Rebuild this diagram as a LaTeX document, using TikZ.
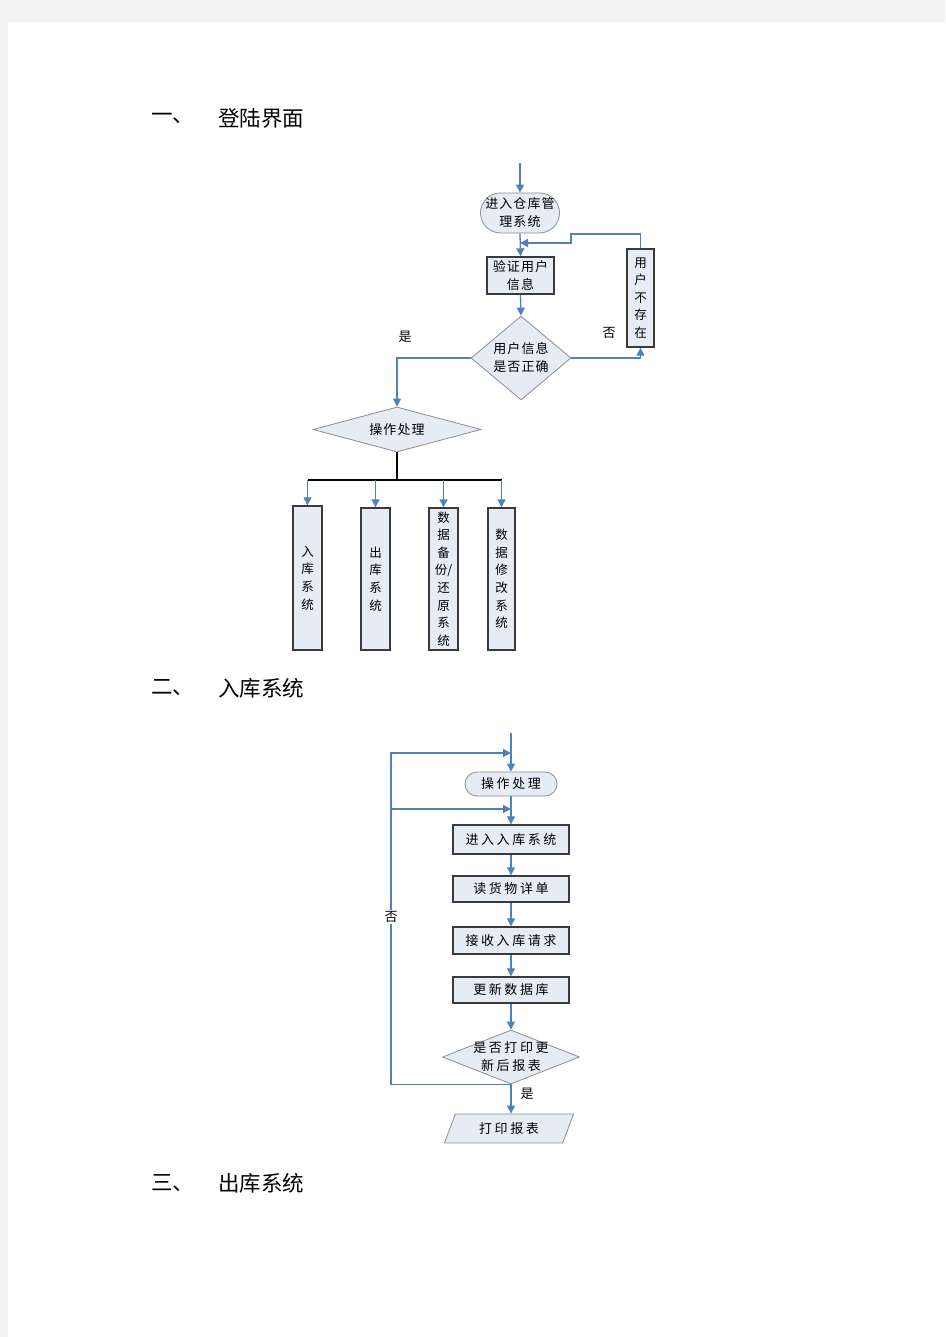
\documentclass[tikz,border=0pt]{standalone}
\usepackage{fontspec}
\usepackage{tikz}
\usetikzlibrary{arrows.meta,shapes.geometric,calc}
\newfontfamily\cjk{Noto Sans CJK SC}
\newfontfamily\cjka[LetterSpace=8]{Noto Sans CJK SC}
\newfontfamily\cjkls[LetterSpace=20]{Noto Sans CJK SC}
\definecolor{flowblue}{HTML}{4F81BD}
\definecolor{boxfill}{HTML}{E6ECF6}
\definecolor{boxline}{HTML}{3A3A3A}
\definecolor{shapeline}{HTML}{8E8E8E}
\definecolor{pagegray}{HTML}{F2F2F2}
\tikzset{>={Triangle[length=8pt,width=8pt]}}
\tikzset{
  flow/.style={flowblue, line width=1.3pt},
  procbox/.style={draw=boxline, line width=1.4pt, fill=boxfill, inner sep=0pt, align=center},
  termbox/.style={draw=shapeline, line width=0.8pt, fill=boxfill, inner sep=0pt, align=center},
  decbox/.style={diamond, draw=shapeline, line width=0.8pt, fill=boxfill, inner sep=0pt},
  iobox/.style={trapezium, trapezium left angle=63, trapezium right angle=117,
    trapezium stretches=true, draw=shapeline, line width=0.8pt, fill=boxfill, inner sep=0pt},
  txt/.style={font=\cjka\fontsize{13}{18}\selectfont},
  txtb/.style={font=\cjkls\fontsize{13}{18}\selectfont},
  vtxt/.style={font=\cjk\fontsize{12.5}{17.6}\selectfont},
  head/.style={font=\cjk\fontsize{21.5}{24}\selectfont, anchor=west, inner sep=0pt},
}

\begin{document}
\begin{tikzpicture}[x=1pt,y=-1pt]
    \fill[pagegray] (0,0) rectangle (945,1337);
    \fill[white] (8,22) rectangle (945,1337);

    % headings
    \node[head] (h1) at (151,118) {一、};
    \node[head] (h1t) at (218,118) {登陆界面};
    \node[head] (h2) at (151,688) {二、};
    \node[head] (h2t) at (218,688) {入库系统};
    \node[head] (h3) at (151,1183) {三、};
    \node[head] (h3t) at (218,1183) {出库系统};

    % login
    \coordinate (in1) at (520,163);
    \node[termbox, txt, minimum width=79pt, minimum height=40pt, rounded corners=20pt] (entry) at (520,213) {进入仓库管\\理系统};
    \node[procbox, txt, minimum width=67pt, minimum height=37pt] (verify) at (520.5,275.5) {验证用户\\信息};
    \node[decbox, minimum width=100pt, minimum height=84pt,
      label={[txt,align=center]center:用户信息\\是否正确}] (check) at (521,358) {};
    \node[procbox, vtxt, minimum width=27pt, minimum height=98pt] (nouser) at (640.5,298) {用\\户\\不\\存\\在};
    \node[decbox, minimum width=168pt, minimum height=45pt, label={[txt]center:操作处理}] (oper) at (397,429.5) {};
    \node[procbox, vtxt, minimum width=29pt, minimum height=144pt] (instock) at (307.5,578) {入\\库\\系\\统};
    \node[procbox, vtxt, minimum width=29pt, minimum height=142pt] (outstock) at (375.5,579) {出\\库\\系\\统};
    \node[procbox, vtxt, minimum width=29pt, minimum height=142pt] (backup) at (443.5,579) {数\\据\\备\\份/\\还\\原\\系\\统};
    \node[procbox, vtxt, minimum width=27pt, minimum height=142pt] (modify) at (501.5,579) {数\\据\\修\\改\\系\\统};
    \node[txt] (yes1) at (405,337) {是};
    \node[txt] (no1) at (609,333) {否};

    \coordinate (fb) at (571,234);
    \coordinate (join) at (520,243);
    \coordinate (bus) at (398,480);
    \draw[flow,->] (in1) -- (entry.north);
    \draw[flow,->] (entry.south) -- (verify.north);
    \draw[flow,->] (nouser.north) |- (fb) |- (join);
    \draw[flow,->] (verify.south) -- (check.north);
    \draw[flow,->] (check.east) -| (nouser.south);
    \draw[flow,->] (check.west) -| (oper.north);
    \draw[line width=1.4pt] (oper.south) -- (oper.south |- bus);
    \draw[line width=1.4pt] (instock.north |- bus) -- (modify.north |- bus);
    \foreach \b in {instock,outstock,backup,modify}
      \draw[flow,->] (\b.north |- bus) -- (\b.north);

    % stock in
    \coordinate (in2) at (511,733);
    \node[termbox, txtb, minimum width=92pt, minimum height=24pt, rounded corners=12pt] (oper2) at (511,784) {操作处理};
    \node[procbox, txtb, minimum width=116pt, minimum height=29pt] (enter) at (511,839.5) {进入入库系统};
    \node[procbox, txtb, minimum width=116pt, minimum height=26pt] (read) at (511,889) {读货物详单};
    \node[procbox, txtb, minimum width=116pt, minimum height=27pt] (recv) at (511,940.5) {接收入库请求};
    \node[procbox, txtb, minimum width=116pt, minimum height=26pt] (update) at (511,990) {更新数据库};
    \node[decbox, minimum width=137pt, minimum height=54pt,
      label={[txtb,align=center]center:是否打印更\\新后报表}] (ask) at (511,1057) {};
    \node[iobox, txtb, minimum width=130pt, minimum height=29pt] (print) at (509,1128.5) {打印报表};

    \coordinate (loop1) at (511,753);
    \coordinate (loop2) at (511,809);
    \coordinate (side) at (391,917);
    \draw[flow,->] (in2) -- (oper2.north);
    \draw[flow,->] (oper2.south) -- (enter.north);
    \draw[flow,->] (ask.south) -| (side) |- (loop1);
    \draw[flow,->] (side |- loop2) -- (loop2);
    \node[txt, fill=white, inner sep=1pt] (no2) at (side) {否};
    \draw[flow,->] (enter.south) -- (read.north);
    \draw[flow,->] (read.south) -- (recv.north);
    \draw[flow,->] (recv.south) -- (update.north);
    \draw[flow,->] (update.south) -- (ask.north);
    \draw[flow,->] (ask.south) -- (ask.south |- print.north);
    \node[txt] (yes2) at (527,1094) {是};
\end{tikzpicture}
\end{document}
